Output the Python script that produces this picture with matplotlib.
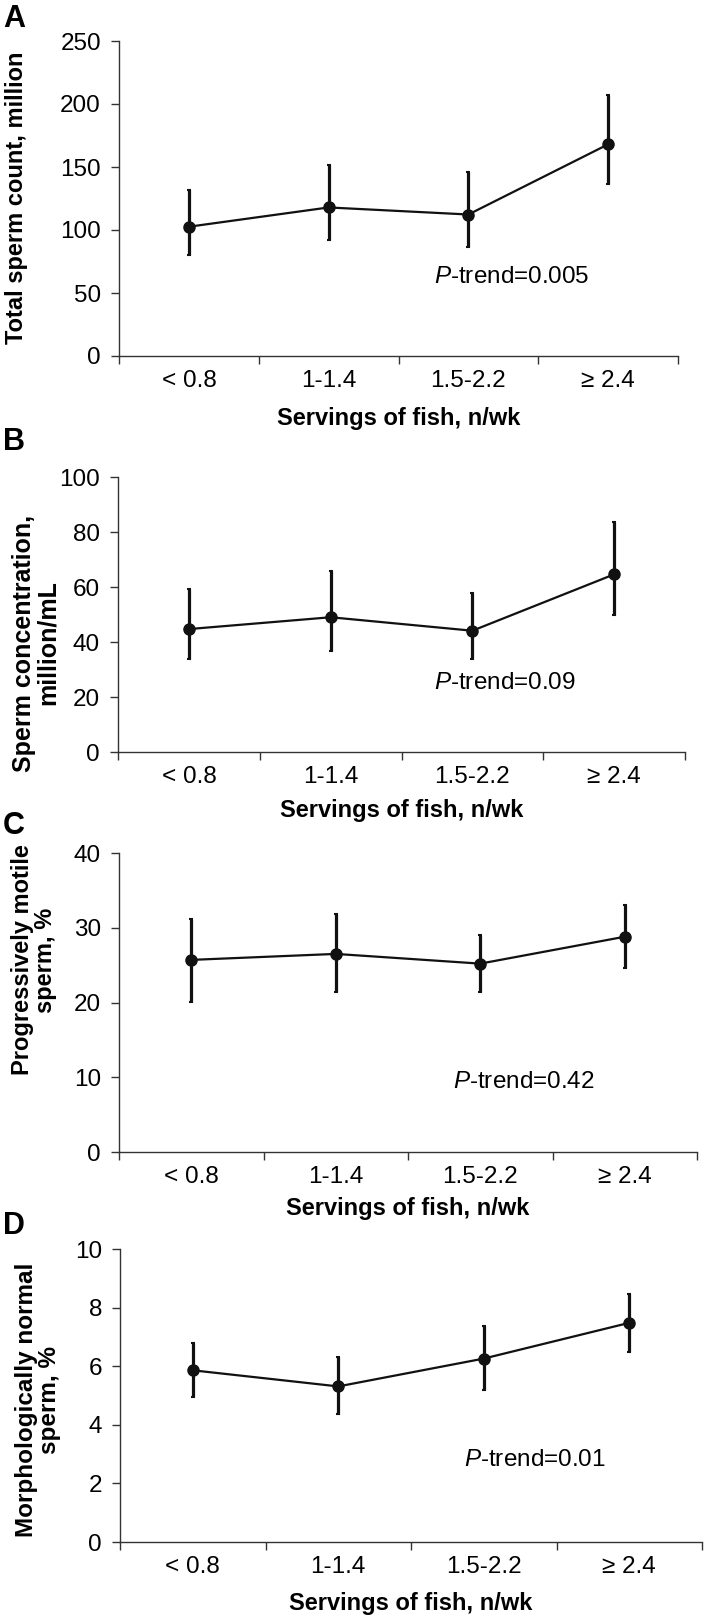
import matplotlib
matplotlib.use('Agg')
import matplotlib.pyplot as plt

plt.rcParams['font.family'] = ['Liberation Sans', 'DejaVu Sans']
plt.rcParams['mathtext.fontset'] = 'custom'
plt.rcParams['mathtext.it'] = 'Liberation Sans:italic'
plt.rcParams['mathtext.rm'] = 'Liberation Sans'

# categorias (porcoes de peixe por semana)
categorias = ['< 0.8', '1-1.4', '1.5-2.2', '\u2265 2.4']

# A - contagem total
media_a = [102.6, 117.9, 112.3, 168.0]
inf_a = [79.9, 91.8, 86.5, 136.3]
sup_a = [131.9, 151.9, 146.1, 207.5]

# B - concentracao
media_b = [44.7, 49.0, 44.1, 64.6]
inf_b = [33.8, 36.6, 33.7, 49.9]
sup_b = [59.2, 65.8, 57.8, 83.5]

# C - motilidade progressiva
media_c = [25.7, 26.5, 25.2, 28.8]
inf_c = [20.1, 21.4, 21.4, 24.6]
sup_c = [31.2, 31.8, 29.0, 33.0]

# D - morfologia normal
media_d = [5.86, 5.31, 6.26, 7.48]
inf_d = [4.94, 4.37, 5.18, 6.49]
sup_d = [6.80, 6.30, 7.38, 8.48]

letras = ['A', 'B', 'C', 'D']
ylabels = ['Total sperm count, million',
           'Sperm concentration,\nmillion/mL',
           'Progressively motile\nsperm, %',
           'Morphologically normal\nsperm, %']
ptrend = ['0.005', '0.09', '0.42', '0.01']
ymax = [250, 100, 40, 10]
ypasso = [50, 20, 10, 2]
medias = [media_a, media_b, media_c, media_d]
inferiores = [inf_a, inf_b, inf_c, inf_d]
superiores = [sup_a, sup_b, sup_c, sup_d]
ptrend_pos = [(2.31, 62.7), (2.23, 25.0), (2.30, 9.4), (2.35, 2.8)]

W, H = 705, 1619
fig = plt.figure(figsize=(W / 100, H / 100), dpi=100)

# caixas dos eixos em pixels: esquerda, direita, topo, base
caixas = [(119, 678, 41, 356), (118, 685, 477, 752),
          (119, 697, 853, 1152), (120, 702, 1249, 1542)]
letra_y = [19, 442, 826, 1226]
ylabel_pos = [(17, 198), (36, 643), (34, 960), (38, 1400)]
ylabel_tam = [17, 18, 17, 17.5]
xlabel_y = [418, 810, 1208, 1603]

cor = '#111111'

for i in range(4):
    l, r, t, b = caixas[i]
    ax = fig.add_axes([l / W, 1 - b / H, (r - l) / W, (b - t) / H])
    x = list(range(4))
    m = medias[i]
    err_baixo = [m[j] - inferiores[i][j] for j in range(4)]
    err_cima = [superiores[i][j] - m[j] for j in range(4)]
    ax.errorbar(x, m, yerr=[err_baixo, err_cima], color=cor, lw=1.6,
                marker='o', markersize=8, elinewidth=2.3, capsize=1.5,
                capthick=1.5)
    ax.set_xlim(-0.5, 3.5)
    ax.set_ylim(0, ymax[i])
    ax.set_yticks(range(0, ymax[i] + 1, ypasso[i]))
    ax.set_xticks([-0.5, 0.5, 1.5, 2.5, 3.5])
    ax.set_xticklabels([])
    ax.set_xticks(x, minor=True)
    ax.set_xticklabels(categorias, minor=True)
    ax.tick_params(axis='x', which='minor', length=0, pad=10, labelsize=17.5)
    ax.tick_params(axis='x', which='major', length=6, width=1, color='#333333', direction='out')
    ax.tick_params(axis='y', length=6, width=1, color='#333333', labelsize=17.5, pad=7)
    for s in ['top', 'right']:
        ax.spines[s].set_visible(False)
    for s in ['left', 'bottom']:
        ax.spines[s].set_color('#333333')
        ax.spines[s].set_linewidth(1)
    ax.text(ptrend_pos[i][0], ptrend_pos[i][1], '$\\it{P}$-trend=' + ptrend[i],
            ha='center', va='center', fontsize=17.5)

    fig.text(3 / W, 1 - letra_y[i] / H, letras[i], fontsize=22, fontweight='bold',
             ha='left', va='center')
    fig.text(ylabel_pos[i][0] / W, 1 - ylabel_pos[i][1] / H, ylabels[i],
             rotation=90, ha='center', va='center', fontsize=ylabel_tam[i],
             fontweight='bold', multialignment='center', linespacing=0.95)
    fig.text((l + r) / 2 / W, 1 - xlabel_y[i] / H, 'Servings of fish, n/wk',
             ha='center', va='center', fontsize=17, fontweight='bold')

plt.savefig('out.png', dpi=100)
